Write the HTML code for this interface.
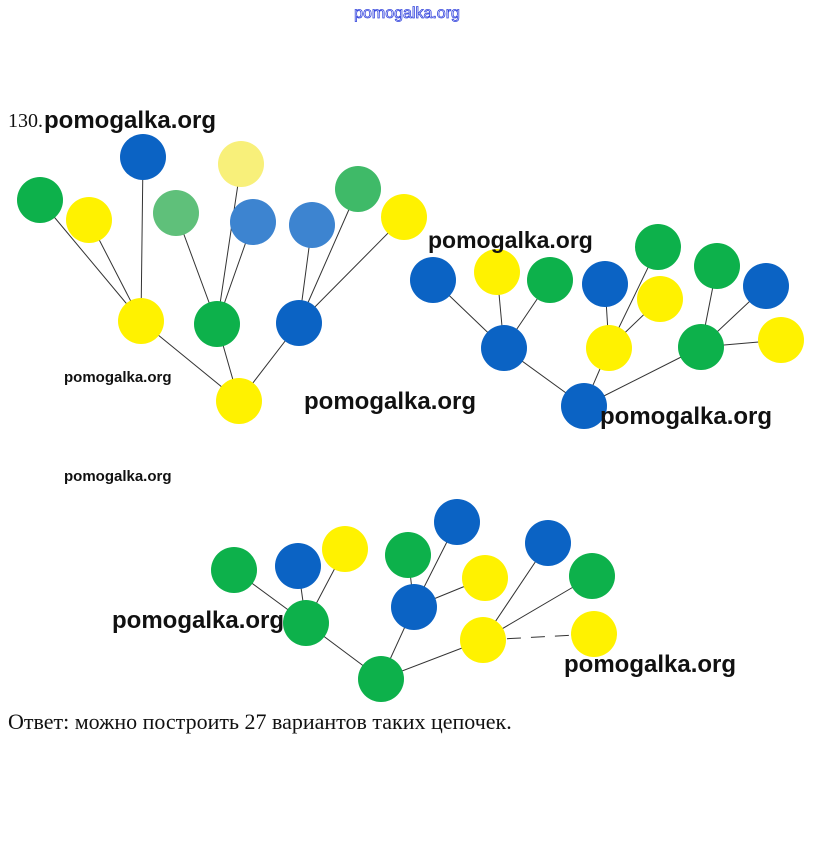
<!DOCTYPE html>
<html><head><meta charset="utf-8"><style>
html,body{margin:0;padding:0;background:#fff;}
body{width:813px;height:838px;overflow:hidden;}
.wm{font-family:"Liberation Sans",sans-serif;font-weight:bold;fill:#111;}
</style></head><body>
<svg width="813" height="838" viewBox="0 0 813 838" xmlns="http://www.w3.org/2000/svg">
<text x="407" y="18" text-anchor="middle" font-family="Liberation Sans,sans-serif" font-size="16" fill="#fff" stroke="#3344dd" stroke-width="0.8">pomogalka.org</text>
<text x="8" y="127" font-family="Liberation Serif,serif" font-size="20" fill="#111">130.</text>
<g stroke="#333" stroke-width="1" fill="none">
<path d="M40 200L141 321M89 220L141 321M143 157L141 321M176 213L217 324M241 164L217 324M253 222L217 324M312 225L299 323M358 189L299 323M404 217L299 323M141 321L239 401M217 324L239 401M299 323L239 401"/>
<path d="M433 280L504 348M497 272L504 348M550 280L504 348M605 284L609 348M658 247L609 348M660 299L609 348M717 266L701 347M766 286L701 347M781 340L701 347M504 348L584 406M609 348L584 406M701 347L584 406"/>
<path d="M234 570L306 623M298 566L306 623M345 549L306 623M408 555L414 607M457 522L414 607M485 578L414 607M548 543L483 640M592 576L483 640M306 623L381 679M414 607L381 679M483 640L381 679"/>
<path d="M483 640L594 634" stroke-dasharray="14 10"/>
</g>
<g>
<circle cx="40" cy="200" r="23" fill="#0db14b"/>
<circle cx="89" cy="220" r="23" fill="#fff200"/>
<circle cx="143" cy="157" r="23" fill="#0b63c4"/>
<circle cx="176" cy="213" r="23" fill="#5fc07a"/>
<circle cx="241" cy="164" r="23" fill="#f8f07a"/>
<circle cx="253" cy="222" r="23" fill="#3d84d0"/>
<circle cx="312" cy="225" r="23" fill="#3d84d0"/>
<circle cx="358" cy="189" r="23" fill="#3fba68"/>
<circle cx="404" cy="217" r="23" fill="#fff200"/>
<circle cx="141" cy="321" r="23" fill="#fff200"/>
<circle cx="217" cy="324" r="23" fill="#0db14b"/>
<circle cx="299" cy="323" r="23" fill="#0b63c4"/>
<circle cx="239" cy="401" r="23" fill="#fff200"/>
<circle cx="433" cy="280" r="23" fill="#0b63c4"/>
<circle cx="497" cy="272" r="23" fill="#fff200"/>
<circle cx="550" cy="280" r="23" fill="#0db14b"/>
<circle cx="605" cy="284" r="23" fill="#0b63c4"/>
<circle cx="658" cy="247" r="23" fill="#0db14b"/>
<circle cx="660" cy="299" r="23" fill="#fff200"/>
<circle cx="717" cy="266" r="23" fill="#0db14b"/>
<circle cx="766" cy="286" r="23" fill="#0b63c4"/>
<circle cx="781" cy="340" r="23" fill="#fff200"/>
<circle cx="504" cy="348" r="23" fill="#0b63c4"/>
<circle cx="609" cy="348" r="23" fill="#fff200"/>
<circle cx="701" cy="347" r="23" fill="#0db14b"/>
<circle cx="584" cy="406" r="23" fill="#0b63c4"/>
<circle cx="234" cy="570" r="23" fill="#0db14b"/>
<circle cx="298" cy="566" r="23" fill="#0b63c4"/>
<circle cx="345" cy="549" r="23" fill="#fff200"/>
<circle cx="408" cy="555" r="23" fill="#0db14b"/>
<circle cx="457" cy="522" r="23" fill="#0b63c4"/>
<circle cx="485" cy="578" r="23" fill="#fff200"/>
<circle cx="548" cy="543" r="23" fill="#0b63c4"/>
<circle cx="592" cy="576" r="23" fill="#0db14b"/>
<circle cx="594" cy="634" r="23" fill="#fff200"/>
<circle cx="306" cy="623" r="23" fill="#0db14b"/>
<circle cx="414" cy="607" r="23" fill="#0b63c4"/>
<circle cx="483" cy="640" r="23" fill="#fff200"/>
<circle cx="381" cy="679" r="23" fill="#0db14b"/>
</g>
<text class="wm" x="44" y="128" font-size="24">pomogalka.org</text>
<text class="wm" x="428" y="248" font-size="23">pomogalka.org</text>
<text class="wm" x="64" y="382" font-size="15">pomogalka.org</text>
<text class="wm" x="304" y="409" font-size="24">pomogalka.org</text>
<text class="wm" x="600" y="424" font-size="24">pomogalka.org</text>
<text class="wm" x="64" y="481" font-size="15">pomogalka.org</text>
<text class="wm" x="112" y="628" font-size="24">pomogalka.org</text>
<text class="wm" x="564" y="672" font-size="24">pomogalka.org</text>
<text x="8" y="729" font-family="Liberation Serif,serif" font-size="22" fill="#111">Ответ: можно построить 27 вариантов таких цепочек.</text>
</svg>
</body></html>
